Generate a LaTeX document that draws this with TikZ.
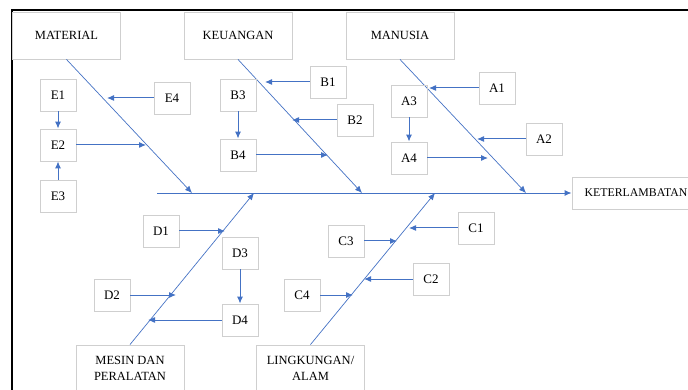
\documentclass[tikz,border=0pt]{standalone}
\usepackage{fontspec}
\setmainfont{Liberation Serif}
\usetikzlibrary{arrows.meta}
\definecolor{bonecol}{HTML}{4472C4}
\definecolor{boxcol}{HTML}{CFCFCF}

\begin{document}
\begin{tikzpicture}[x=1pt, y=-1pt,
		catbox/.style={draw=boxcol, line width=0.9pt, minimum width=108pt, minimum height=47pt, align=center, inner sep=0pt, font=\fontsize{12.5}{16}\selectfont},
		subbox/.style={draw=boxcol, line width=0.9pt, minimum width=36pt, minimum height=32pt, inner sep=0pt, font=\fontsize{13}{15}\selectfont},
		bone/.style={draw=bonecol, line width=0.7pt, -{Latex[length=7pt, width=6pt]}},
		arr/.style={draw=bonecol, line width=1pt, -{Latex[length=7pt, width=6pt]}}]
			%%%%% START %%%%%
			\useasboundingbox (0, 0) rectangle (688, 390);
			
			% frame
			\draw[line width=2pt] (11.5, 390) -- (11.5, 10) -- (690, 10);
			
			% categories
			\node[catbox] (material) at (66.5, 35.5) {MATERIAL};
			\node[catbox] (keuangan) at (238, 35.5) {KEUANGAN};
			\node[catbox] (manusia) at (400, 35.5) {MANUSIA};
			\node[catbox] (mesin) at (130, 368.5) {MESIN DAN\\PERALATAN};
			\node[catbox] (lingkungan) at (310.5, 368.5) {LINGKUNGAN/\\ALAM};
			\node[catbox, minimum width=128pt, minimum height=32pt, font=\fontsize{11.8}{14}\selectfont] (akibat) at (636, 193) {KETERLAMBATAN};
			
			% spine and bones
			\coordinate (ekor) at (157, 193);
			\coordinate (tm) at (192, 193);
			\coordinate (tk) at (362, 193);
			\coordinate (tn) at (526, 193);
			\coordinate (td) at (254, 193);
			\coordinate (tl) at (435, 193);
			\draw[arr, line width=0.9pt] (ekor) -- (akibat.west);
			\draw[bone] (material.south) -- (tm);
			\draw[bone] (keuangan.south) -- (tk);
			\draw[bone] (manusia.south) -- (tn);
			\draw[bone] (mesin.north) -- (td);
			\draw[bone] (lingkungan.north) -- (tl);
			
			% material
			\node[subbox] (e1) at (58, 95) {E1};
			\node[subbox] (e2) at (58, 145) {E2};
			\node[subbox] (e3) at (58, 196) {E3};
			\node[subbox] (e4) at (172, 98) {E4};
			\coordinate (pe4) at (107, 98);
			\coordinate (pe2) at (146, 145);
			\draw[arr] (e1) -- (e2);
			\draw[arr] (e3) -- (e2);
			\draw[arr] (e4.west) -- (pe4);
			\draw[arr] (e2.east) -- (pe2);
			
			% keuangan
			\node[subbox] (b1) at (328, 82) {B1};
			\node[subbox] (b2) at (355, 120) {B2};
			\node[subbox] (b3) at (238, 95) {B3};
			\node[subbox] (b4) at (238, 155) {B4};
			\coordinate (pb1) at (265, 82);
			\coordinate (pb2) at (292, 120);
			\coordinate (pb4) at (328, 155);
			\draw[arr] (b1.west) -- (pb1);
			\draw[arr] (b2.west) -- (pb2);
			\draw[arr] (b3) -- (b4);
			\draw[arr] (b4.east) -- (pb4);
			
			% manusia
			\node[subbox] (a1) at (497, 88) {A1};
			\node[subbox] (a2) at (544, 139) {A2};
			\node[subbox] (a3) at (409, 101) {A3};
			\node[subbox] (a4) at (409, 158) {A4};
			\coordinate (pa1) at (429, 88);
			\coordinate (pa2) at (477, 139);
			\coordinate (pa4) at (488, 158);
			\draw[arr] (a1.west) -- (pa1);
			\draw[arr] (a2.west) -- (pa2);
			\draw[arr] (a3) -- (a4);
			\draw[arr] (a4.east) -- (pa4);
			
			% mesin dan peralatan
			\node[subbox] (d1) at (161, 231) {D1};
			\node[subbox] (d2) at (112, 295) {D2};
			\node[subbox] (d3) at (240, 253) {D3};
			\node[subbox] (d4) at (240, 320) {D4};
			\coordinate (pd1) at (225, 231);
			\coordinate (pd2) at (176, 295);
			\coordinate (pd4) at (148, 320);
			\draw[arr] (d1.east) -- (pd1);
			\draw[arr] (d2.east) -- (pd2);
			\draw[arr] (d3) -- (d4);
			\draw[arr] (d4.west) -- (pd4);
			
			% lingkungan
			\node[subbox] (c1) at (476, 228) {C1};
			\node[subbox] (c2) at (431, 279) {C2};
			\node[subbox] (c3) at (346, 241) {C3};
			\node[subbox] (c4) at (302, 295) {C4};
			\coordinate (pc1) at (409, 228);
			\coordinate (pc2) at (364, 279);
			\coordinate (pc3) at (397, 241);
			\coordinate (pc4) at (353, 295);
			\draw[arr] (c1.west) -- (pc1);
			\draw[arr] (c2.west) -- (pc2);
			\draw[arr] (c3.east) -- (pc3);
			\draw[arr] (c4.east) -- (pc4);
			
			%%%%% END %%%%%
		\end{tikzpicture}
\end{document}
